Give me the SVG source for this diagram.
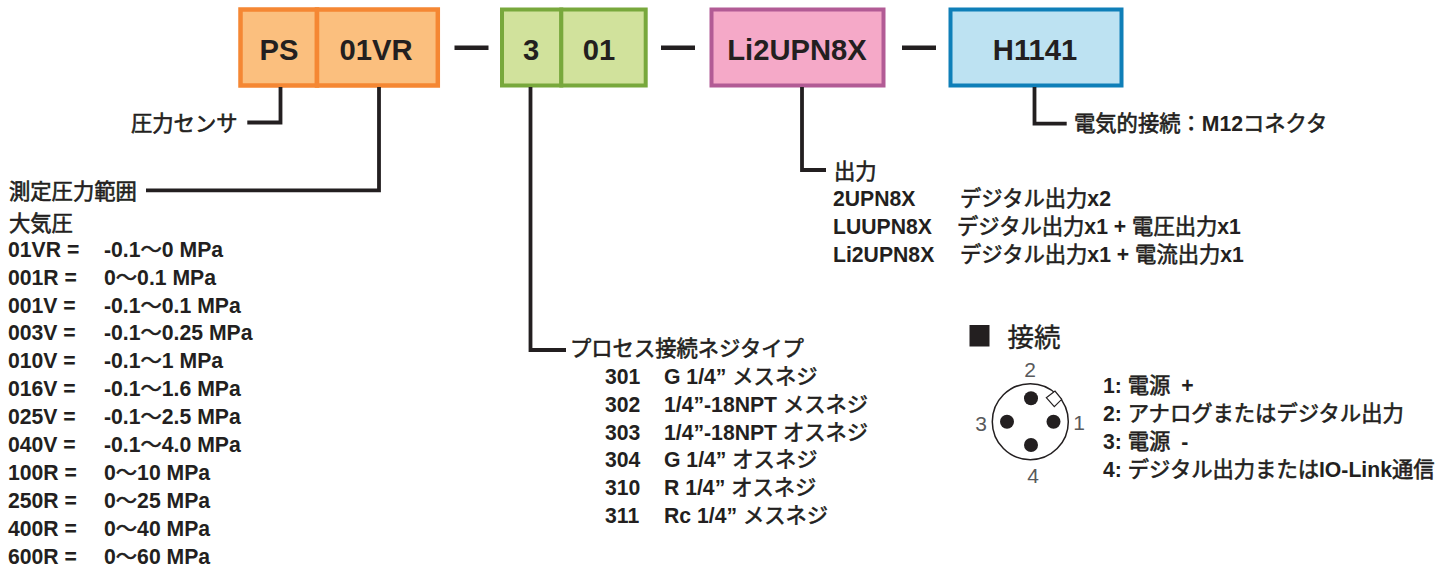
<svg xmlns="http://www.w3.org/2000/svg" width="1448" height="567" viewBox="0 0 1448 567">
<style>
text{font-family:"Liberation Sans","Noto Sans CJK JP",sans-serif;fill:#231f20}
.b{font-weight:700;font-size:21.2px}
.j{font-family:"Noto Sans CJK JP",sans-serif;font-weight:400;font-size:21.3px;stroke:#231f20;stroke-width:.6px}
.t{font-weight:700;font-size:29.200px;text-anchor:middle}
.n{font-size:21px;fill:#58595b;text-anchor:middle}
.c{fill:none;stroke:#231f20;stroke-width:3.800}
.d{fill:none;stroke:#231f20;stroke-width:4.400}
.p{fill:#231f20}
.o{fill:#fbbf7e;stroke:#f58733;stroke-width:4.500}
.g{fill:#d1e29c;stroke:#78a83c;stroke-width:4}
</style>
<g id="code-ps">
<rect x="240.500" y="9.500" width="76.500" height="76" class="o"/>
<text class="t" x="279" y="60">PS</text>
</g>
<g id="code-01vr">
<rect x="317" y="9.500" width="120.800" height="76" class="o"/>
<text class="t" x="376" y="60">01VR</text>
</g>
<g id="code-3">
<rect x="502" y="9.500" width="59.300" height="76" class="g"/>
<text class="t" x="531" y="60">3</text>
</g>
<g id="code-01">
<rect x="561.300" y="9.500" width="84.400" height="76" class="g"/>
<text class="t" x="599" y="60">01</text>
</g>
<g id="code-output">
<rect x="711.500" y="9.500" width="172" height="76" fill="#f5a9c8" stroke="#b25b95" stroke-width="4"/>
<text class="t" x="797" y="60">Li2UPN8X</text>
</g>
<g id="code-conn">
<rect x="950.500" y="9.500" width="171" height="76" fill="#bde2f2" stroke="#0f7fb8" stroke-width="4"/>
<text class="t" x="1035" y="60">H1141</text>
</g>
<g id="connectors">
<path class="d" d="M454.500 47.700H488.500M661 47.700H695M902 47.700H936"/>
<path class="c" d="M280.500 87V122.500H247.300"/>
<path class="c" d="M379 87V190.300H146"/>
<path class="c" d="M530.500 87V350H566"/>
<path class="c" d="M802 87V170H826"/>
<path class="c" d="M1034.500 87V123.700H1066.700"/>
</g>
<g id="label-sensor"><text class="b" x="131" y="131"><tspan class="j">圧力センサ</tspan></text></g>
<g id="label-range">
<text class="b" x="9" y="199"><tspan class="j">測定圧力範囲</tspan></text>
<text class="b" x="9" y="231"><tspan class="j">大気圧</tspan></text>
<text class="b" x="8" y="257">01VR =</text><text class="b" x="104" y="257">-0.1<tspan class="j">～</tspan>0 MPa</text>
<text class="b" x="8" y="285">001R =</text><text class="b" x="104" y="285">0<tspan class="j">～</tspan>0.1 MPa</text>
<text class="b" x="8" y="313">001V =</text><text class="b" x="104" y="313">-0.1<tspan class="j">～</tspan>0.1 MPa</text>
<text class="b" x="8" y="340">003V =</text><text class="b" x="104" y="340">-0.1<tspan class="j">～</tspan>0.25 MPa</text>
<text class="b" x="8" y="368">010V =</text><text class="b" x="104" y="368">-0.1<tspan class="j">～</tspan>1 MPa</text>
<text class="b" x="8" y="396">016V =</text><text class="b" x="104" y="396">-0.1<tspan class="j">～</tspan>1.6 MPa</text>
<text class="b" x="8" y="424">025V =</text><text class="b" x="104" y="424">-0.1<tspan class="j">～</tspan>2.5 MPa</text>
<text class="b" x="8" y="452">040V =</text><text class="b" x="104" y="452">-0.1<tspan class="j">～</tspan>4.0 MPa</text>
<text class="b" x="8" y="480">100R =</text><text class="b" x="104" y="480">0<tspan class="j">～</tspan>10 MPa</text>
<text class="b" x="8" y="508">250R =</text><text class="b" x="104" y="508">0<tspan class="j">～</tspan>25 MPa</text>
<text class="b" x="8" y="536">400R =</text><text class="b" x="104" y="536">0<tspan class="j">～</tspan>40 MPa</text>
<text class="b" x="8" y="564">600R =</text><text class="b" x="104" y="564">0<tspan class="j">～</tspan>60 MPa</text>
</g>
<g id="label-process">
<text class="b" x="570" y="356"><tspan class="j">プロセス接続ネジタイプ</tspan></text>
<text class="b" x="605" y="384">301</text><text class="b" x="664" y="384">G 1/4” <tspan class="j">メスネジ</tspan></text>
<text class="b" x="605" y="412">302</text><text class="b" x="664" y="412">1/4”-18NPT <tspan class="j">メスネジ</tspan></text>
<text class="b" x="605" y="440">303</text><text class="b" x="664" y="440">1/4”-18NPT <tspan class="j">オスネジ</tspan></text>
<text class="b" x="605" y="467">304</text><text class="b" x="664" y="467">G 1/4” <tspan class="j">オスネジ</tspan></text>
<text class="b" x="605" y="495">310</text><text class="b" x="664" y="495">R 1/4” <tspan class="j">オスネジ</tspan></text>
<text class="b" x="605" y="523">311</text><text class="b" x="664" y="523">Rc 1/4” <tspan class="j">メスネジ</tspan></text>
</g>
<g id="label-output">
<text class="b" x="834" y="179"><tspan class="j">出力</tspan></text>
<text class="b" x="833" y="206">2UPN8X</text><text class="b" x="960" y="206"><tspan class="j">デジタル出力</tspan>x2</text>
<text class="b" x="833" y="234">LUUPN8X</text><text class="b" x="957" y="234"><tspan class="j">デジタル出力</tspan>x1 + <tspan class="j">電圧出力</tspan>x1</text>
<text class="b" x="833" y="261.500">Li2UPN8X</text><text class="b" x="960" y="261.500"><tspan class="j">デジタル出力</tspan>x1 + <tspan class="j">電流出力</tspan>x1</text>
</g>
<g id="label-conn"><text class="b" x="1074" y="131"><tspan class="j">電気的接続：</tspan>M12<tspan class="j">コネクタ</tspan></text></g>
<g id="connection">
<rect x="969.500" y="325" width="20" height="21.500" class="p"/>
<text x="1007.500" y="346.500" font-size="26.500" stroke="#231f20" stroke-width=".4">接続</text>
<circle cx="1030.300" cy="421.700" r="38" fill="none" stroke="#231f20" stroke-width="1.500"/>
<circle cx="1031" cy="398.300" r="7" class="p"/>
<circle cx="1007" cy="421.700" r="7" class="p"/>
<circle cx="1053.500" cy="421.700" r="7" class="p"/>
<circle cx="1031" cy="445" r="7" class="p"/>
<path d="M1046.300 397.700L1055 391L1061.700 399.300L1054.300 406.700Z" fill="#fff" stroke="#231f20" stroke-width="1.200"/>
<text class="n" x="1030" y="376.500">2</text>
<text class="n" x="981" y="430.500">3</text>
<text class="n" x="1079" y="429.500">1</text>
<text class="n" x="1033" y="482.500">4</text>
<text class="b" x="1103" y="393">1: <tspan class="j">電源</tspan><tspan dx="11">+</tspan></text>
<text class="b" x="1103" y="421">2: <tspan class="j">アナログまたはデジタル出力</tspan></text>
<text class="b" x="1103" y="449">3: <tspan class="j">電源</tspan><tspan dx="11">-</tspan></text>
<text class="b" x="1103" y="477">4: <tspan class="j">デジタル出力または</tspan>IO-Link<tspan class="j">通信</tspan></text>
</g>
</svg>
